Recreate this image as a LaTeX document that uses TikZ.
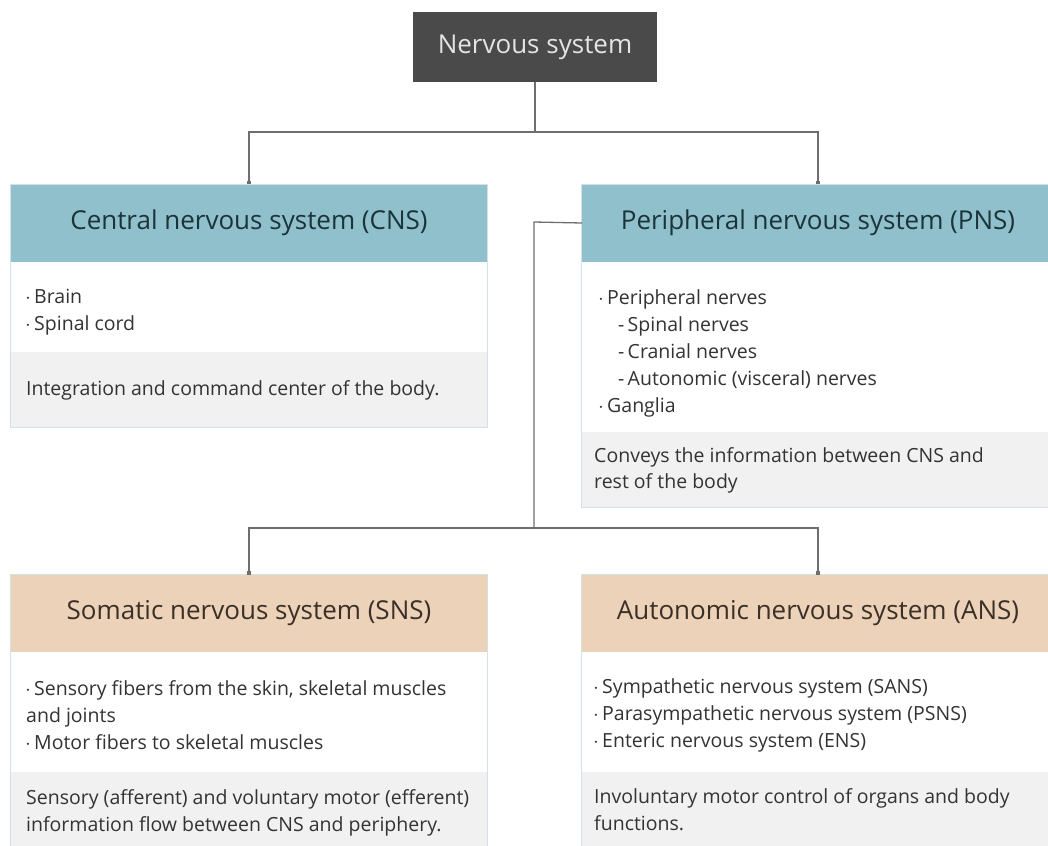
\documentclass[tikz,border=0pt]{standalone}
\usepackage{fontspec}
\setmainfont{Open Sans}
\usetikzlibrary{arrows.meta}
\definecolor{topfill}{HTML}{4A4A4A}
\definecolor{toptext}{HTML}{E4E4E4}
\definecolor{bluehd}{HTML}{8FC0CC}
\definecolor{bluetx}{HTML}{1C3439}
\definecolor{tanhd}{HTML}{ECD2B8}
\definecolor{tantx}{HTML}{3B3027}
\definecolor{footfill}{HTML}{F1F1F1}
\definecolor{boxline}{HTML}{D3E2E7}
\definecolor{conncol}{HTML}{6E6E6E}
\definecolor{bodytx}{HTML}{333333}
\tikzset{
  topbox/.style={fill=topfill, text=toptext, minimum width=244pt, minimum height=70pt, inner sep=0pt, font=\fontsize{26}{30}\selectfont},
  hdr/.style={minimum height=77pt, inner sep=0pt, font=\fontsize{26}{30}\selectfont},
  bluehdr/.style={hdr, fill=bluehd, text=bluetx},
  tanhdr/.style={hdr, fill=tanhd, text=tantx},
  bodybox/.style={fill=white, inner sep=0pt},
  footbox/.style={fill=footfill, inner sep=0pt},
  frame/.style={draw=boxline, line width=1pt},
  txt/.style={anchor=base west, inner sep=0pt, text=bodytx, font=\fontsize{19.5}{27}\selectfont},
  conn/.style={draw=conncol, line width=1.3pt, -{Square[length=3.5pt,width=3.5pt]}},
  connplain/.style={draw=conncol, line width=1.3pt},
}
\newcommand{\bul}{$\cdot$\,}
\newcommand{\dsh}{\hspace*{20pt}-\,}
\begin{document}
\begin{tikzpicture}[x=1pt,y=-1pt]
\useasboundingbox (0,0) rectangle (1048,845);
% top
\node[topbox] (ns) at (535,47) {Nervous system};
% CNS
\node[bodybox, minimum width=476pt, minimum height=91pt] (cnsbody) at (249,306.5) {};
\node[footbox, minimum width=476pt, minimum height=75pt] (cnsfoot) at (249,389.5) {};
\node[bluehdr, minimum width=476pt] (cns) at (249,223) {Central nervous system (CNS)};
\draw[frame] (cns.north west) rectangle (cnsfoot.south east);
\node[txt] (cns1) at (25,303) {\bul Brain};
\node[txt] (cns2) at (25,330) {\bul Spinal cord};
\node[txt] (cnsn) at (26,395) {Integration and command center of the body.};
% PNS
\node[bodybox, minimum width=472pt, minimum height=171pt] (pnsbody) at (818,346.5) {};
\node[footbox, minimum width=472pt, minimum height=75pt] (pnsfoot) at (818,469.5) {};
\node[bluehdr, minimum width=472pt] (pns) at (818,223) {Peripheral nervous system (PNS)};
\draw[frame] (pns.north west) rectangle (pnsfoot.south east);
\node[txt] (pns1) at (598,304) {\bul Peripheral nerves};
\node[txt] (pns2) at (598,331) {\dsh Spinal nerves};
\node[txt] (pns3) at (598,358) {\dsh Cranial nerves};
\node[txt] (pns4) at (598,385) {\dsh Autonomic (visceral) nerves};
\node[txt] (pns5) at (598,412) {\bul Ganglia};
\node[txt] (pnsn1) at (594,462) {Conveys the information between CNS and};
\node[txt] (pnsn2) at (594,488) {rest of the body};
% SNS
\node[bodybox, minimum width=476pt, minimum height=120pt] (snsbody) at (249,712) {};
\node[footbox, minimum width=476pt, minimum height=80pt] (snsfoot) at (249,812) {};
\node[tanhdr, minimum width=476pt] (sns) at (249,613.5) {Somatic nervous system (SNS)};
\draw[frame] (sns.north west) rectangle (snsfoot.south east);
\node[txt] (sns1) at (25,695) {\bul Sensory fibers from the skin, skeletal muscles};
\node[txt] (sns2) at (26,722) {and joints};
\node[txt] (sns3) at (25,749) {\bul Motor fibers to skeletal muscles};
\node[txt] (snsn1) at (26,804) {Sensory (afferent) and voluntary motor (efferent)};
\node[txt] (snsn2) at (26,831) {information flow between CNS and periphery.};
% ANS
\node[bodybox, minimum width=472pt, minimum height=120pt] (ansbody) at (818,712) {};
\node[footbox, minimum width=472pt, minimum height=80pt] (ansfoot) at (818,812) {};
\node[tanhdr, minimum width=472pt] (ans) at (818,613.5) {Autonomic nervous system (ANS)};
\draw[frame] (ans.north west) rectangle (ansfoot.south east);
\node[txt] (ans1) at (593,693) {\bul Sympathetic nervous system (SANS)};
\node[txt] (ans2) at (593,720) {\bul Parasympathetic nervous system (PSNS)};
\node[txt] (ans3) at (593,747) {\bul Enteric nervous system (ENS)};
\node[txt] (ansn1) at (594,803) {Involuntary motor control of organs and body};
\node[txt] (ansn2) at (594,830) {functions.};
% connectors
\coordinate (j1) at (535,132);
\coordinate (j2) at (534,222);
\coordinate (j3) at (534,528);
\draw[connplain] (ns.south) -- (j1);
\draw[conn] (j1) -| (cns.north);
\draw[conn] (j1) -| (pns.north);
\draw[connplain] (pns.west) -- (j2) -- (j3);
\draw[conn] (j3) -| (sns.north);
\draw[conn] (j3) -| (ans.north);
\end{tikzpicture}
\end{document}
